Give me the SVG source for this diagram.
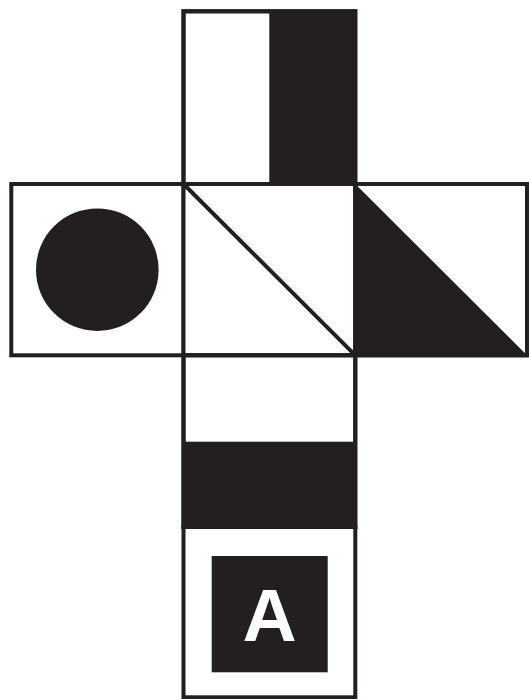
<svg xmlns="http://www.w3.org/2000/svg" width="529" height="699" viewBox="0 0 529 699">
  <style>
    .face { fill: #ffffff; stroke: #231f20; stroke-width: 4; }
    .ink { fill: #231f20; stroke: none; }
    .line { stroke: #231f20; stroke-width: 4; fill: none; }
    .letter { font-family: "Liberation Sans", Arial, sans-serif; font-weight: bold; font-size: 75px; fill: #ffffff; text-anchor: middle; }
  </style>
  <rect width="529" height="699" fill="#ffffff"/>
  <g id="face-top">
    <rect class="face" x="183.5" y="11.3" width="171.8" height="172.7"/>
    <rect class="ink" x="269.3" y="11.3" width="86" height="172.7"/>
    <rect class="line" x="183.5" y="11.3" width="171.8" height="172.7"/>
  </g>
  <g id="face-left">
    <rect class="face" x="11.3" y="184" width="172.2" height="171.3"/>
    <circle class="ink" cx="97.3" cy="269.7" r="61.3"/>
  </g>
  <g id="face-center">
    <rect class="face" x="183.5" y="184" width="171.8" height="171.3"/>
    <line class="line" x1="183.5" y1="184" x2="355.3" y2="355.3"/>
  </g>
  <g id="face-right">
    <rect class="face" x="355.3" y="184" width="171.7" height="171.3"/>
    <polygon class="ink" points="355.3,184 355.3,355.3 527,355.3"/>
    <rect class="line" x="355.3" y="184" width="171.7" height="171.3"/>
  </g>
  <g id="face-below">
    <rect class="face" x="183.5" y="355.3" width="171.8" height="171.7"/>
    <rect class="ink" x="183.5" y="441.7" width="171.8" height="85.3"/>
    <rect class="line" x="183.5" y="355.3" width="171.8" height="171.7"/>
  </g>
  <g id="face-bottom">
    <rect class="face" x="183.5" y="527" width="171.8" height="170.3"/>
    <rect class="ink" x="211.7" y="556" width="116" height="116.3"/>
    <text class="letter" x="269.6" y="641">A</text>
  </g>
</svg>
